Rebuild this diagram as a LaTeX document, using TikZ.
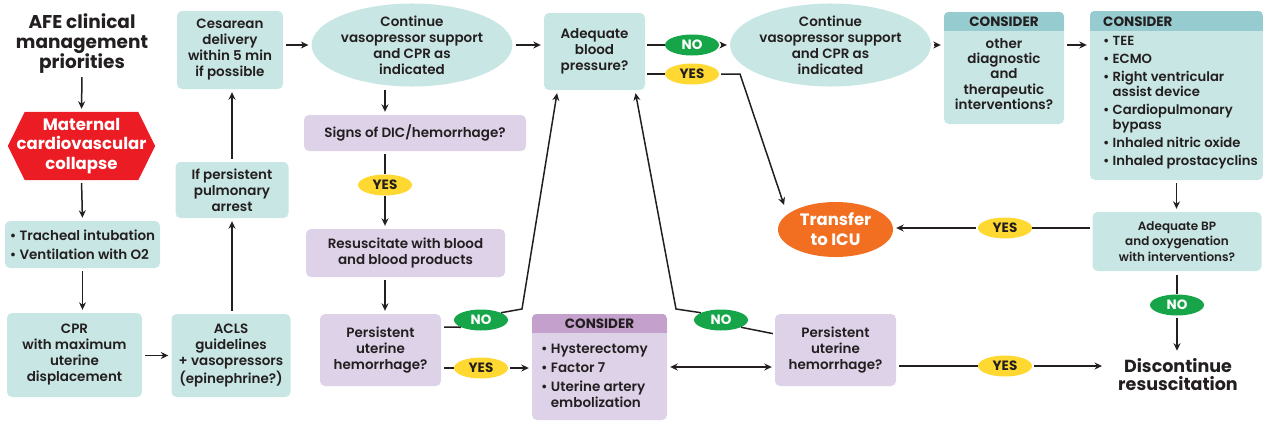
\documentclass[tikz,border=0pt]{standalone}
\usepackage{fontspec}
\setmainfont{Poppins}[BoldFont={Poppins SemiBold}]
\newfontfamily\heavyfont{Poppins Bold}
\usetikzlibrary{shapes.geometric,arrows.meta,calc}
\definecolor{ink}{HTML}{231F20}
\definecolor{tealf}{HTML}{C8E6E3}
\definecolor{tealh}{HTML}{96CCD0}
\definecolor{purf}{HTML}{DED2E8}
\definecolor{purh}{HTML}{C4A0CC}
\definecolor{redc}{HTML}{EC1C24}
\definecolor{orangec}{HTML}{F26F21}
\definecolor{greenc}{HTML}{17A54A}
\definecolor{yellowc}{HTML}{FFD832}
\newcommand\bt{\bfseries\fontsize{13.5}{16}\selectfont}
\begin{document}
\begin{tikzpicture}[x=1pt,y=-1pt,
  every node/.style={text=ink},
  tbox/.style={rectangle,rounded corners=5pt,fill=tealf,inner sep=0pt,align=center,font=\bt},
  pbox/.style={rectangle,rounded corners=5pt,fill=purf,inner sep=0pt,align=center,font=\bt},
  tell/.style={ellipse,fill=tealf,inner sep=0pt,align=center,font=\bt},
  yesov/.style={ellipse,fill=yellowc,inner sep=0pt,minimum width=54pt,minimum height=21pt,font=\heavyfont\fontsize{13.5}{16}\selectfont},
  noov/.style={ellipse,fill=greenc,inner sep=0pt,minimum width=54pt,minimum height=21pt,font=\heavyfont\fontsize{13.5}{16}\selectfont,text=white},
  hdr/.style={inner sep=0pt,font=\heavyfont\fontsize{13.5}{16}\selectfont},
  bigt/.style={inner sep=0pt,align=center,font=\heavyfont\fontsize{18.5}{20}\selectfont},
  arr/.style={draw=ink,line width=1.5pt,-{Stealth[length=7.5pt,width=7pt]},shorten <=3pt,shorten >=3pt},
  ln/.style={draw=ink,line width=1.5pt}
]
\useasboundingbox (0,0) rectangle (1263,421);

% left column
\node[bigt] (title) at (82,44) {AFE clinical\\management\\priorities};
\node[minimum width=147pt,minimum height=68pt,inner sep=0pt] (hex) at (81.5,146) {};
\fill[redc] (hex.west) -- ([xshift=17pt]hex.north west) -- ([xshift=-17pt]hex.north east) -- (hex.east) -- ([xshift=-17pt]hex.south east) -- ([xshift=17pt]hex.south west) -- cycle;
\node[inner sep=0pt,align=center,text=white,font=\heavyfont\fontsize{16.5}{19.5}\selectfont] (hexT) at (hex.center) {Maternal\\cardiovascular\\collapse};
\node[tbox,minimum width=155pt,minimum height=47pt,align=left,font=\bfseries\fontsize{13.5}{19}\selectfont] (trach) at (82.5,244.5) {\textbullet\ Tracheal intubation\\\textbullet\ Ventilation with O2};
\node[tbox,minimum width=135pt,minimum height=84pt] (cpr) at (74.5,355) {CPR\\with maximum\\uterine\\displacement};
\node[tbox,minimum width=119pt,minimum height=83pt] (acls) at (231,355.5) {ACLS\\guidelines\\+ vasopressors\\(epinephrine?)};
\node[tbox,minimum width=113pt,minimum height=56pt] (pulm) at (232,190) {If persistent\\pulmonary\\arrest};
\node[tbox,minimum width=106pt,minimum height=78pt] (cesar) at (230,50) {Cesarean\\delivery\\within 5 min\\if possible};

% middle
\node[tell,minimum width=176pt,minimum height=80pt] (ell1) at (412,45) {Continue\\vasopressor support\\and CPR as\\indicated};
\node[tbox,minimum width=101pt,minimum height=77pt] (abp) at (594.5,51.5) {Adequate\\blood\\pressure?};
\node[pbox,minimum width=222pt,minimum height=36pt] (dic) at (415,133) {Signs of DIC/hemorrhage?};
\node[yesov] (yesA) at (385,185) {YES};
\node[pbox,minimum width=199pt,minimum height=48pt] (resus) at (405.5,253) {Resuscitate with blood\\and blood products};
\node[pbox,minimum width=121pt,minimum height=72pt] (puh1) at (380.5,350) {Persistent\\uterine\\hemorrhage?};
\node[noov] (noA) at (481,320) {NO};
\node[yesov] (yesB) at (481,368) {YES};

\node[pbox,minimum width=135pt,minimum height=106pt] (cons3) at (599.5,367) {};
\begin{scope}
\clip[rounded corners=5pt] (cons3.south west) rectangle (cons3.north east);
\fill[purh] (cons3.north west) rectangle ([yshift=-19pt]cons3.north east);
\end{scope}
\node[hdr] (cons3h) at (599.5,324) {CONSIDER};
\node[inner sep=0pt,align=left,anchor=west,font=\bfseries\fontsize{13.5}{16}\selectfont] (cons3t) at (541,376) {\textbullet\ Hysterectomy\\[3pt]\textbullet\ Factor 7\\[3pt]\textbullet\ Uterine artery\\\phantom{\textbullet\ }embolization};

\node[pbox,minimum width=121pt,minimum height=72pt] (puh2) at (835.5,350) {Persistent\\uterine\\hemorrhage?};
\node[noov] (noB) at (721,320) {NO};
\node[yesov] (yesC) at (1005,366) {YES};
\node[inner sep=0pt,align=center,font=\heavyfont\fontsize{17.5}{18}\selectfont] (disc) at (1178,375) {Discontinue\\resuscitation};

\node[noov] (noC) at (692,45) {NO};
\node[yesov] (yesD) at (692,74) {YES};
\node[tell,minimum width=174pt,minimum height=80pt] (ell2) at (830.5,45) {Continue\\vasopressor support\\and CPR as\\indicated};
\node[ellipse,fill=orangec,inner sep=0pt,minimum width=115pt,minimum height=55pt,align=center,text=white,font=\heavyfont\fontsize{16.5}{20}\selectfont] (icu) at (835.5,229.5) {Transfer\\to ICU};
\coordinate (icuIn) at (784,205);

% right
\node[tbox,minimum width=120pt,minimum height=112pt] (cons1) at (1004,68) {};
\begin{scope}
\clip[rounded corners=5pt] (cons1.south west) rectangle (cons1.north east);
\fill[tealh] (cons1.north west) rectangle ([yshift=-19pt]cons1.north east);
\end{scope}
\node[hdr] (cons1h) at (1004,22) {CONSIDER};
\node[inner sep=0pt,align=center,font=\bfseries\fontsize{13.5}{15.3}\selectfont] (cons1t) at (1004,74) {other\\diagnostic\\and\\therapeutic\\interventions?};

\node[tbox,minimum width=173pt,minimum height=169pt] (cons2) at (1176.5,95.5) {};
\begin{scope}
\clip[rounded corners=5pt] (cons2.south west) rectangle (cons2.north east);
\fill[tealh] (cons2.north west) rectangle ([yshift=-20pt]cons2.north east);
\end{scope}
\node[hdr,anchor=west] (cons2h) at (1103,21.5) {CONSIDER};
\node[inner sep=0pt,align=left,anchor=west,font=\bfseries\fontsize{13.2}{15}\selectfont] (cons2t) at (1103,103) {\textbullet\ TEE\\[3pt]\textbullet\ ECMO\\[3pt]\textbullet\ Right ventricular\\\phantom{\textbullet\ }assist device\\[3pt]\textbullet\ Cardiopulmonary\\\phantom{\textbullet\ }bypass\\[3pt]\textbullet\ Inhaled nitric oxide\\[3pt]\textbullet\ Inhaled prostacyclins};

\node[tbox,minimum width=169pt,minimum height=59pt,font=\bfseries\fontsize{12}{15.5}\selectfont] (abp2) at (1177,241.5) {Adequate BP\\and oxygenation\\with interventions?};
\node[yesov] (yesE) at (1005,228) {YES};
\node[noov] (noD) at (1177,305) {NO};

% connectors
\draw[arr] (title.south) -- (hex.north);
\draw[arr] (hex.south) -- (trach.north);
\draw[arr] (trach.south) -- (trach.south |- cpr.north);
\draw[arr] (cpr.east |- acls.west) -- (acls.west);
\draw[arr] ([xshift=1pt]acls.north) -- ([xshift=1pt]acls.north |- pulm.south);
\draw[arr] (pulm.north) -- (pulm.north |- cesar.south);
\draw[arr] (cesar.east |- ell1.west) -- (ell1.west);
\draw[arr] (ell1.east) -- (ell1.east -| abp.west);
\draw[arr] (ell1.south -| yesA) -- (dic.north -| yesA);
\draw[ln,shorten <=3pt] (dic.south -| yesA) -- (yesA.north);
\draw[arr,shorten <=0pt] (yesA.south) -- (resus.north -| yesA);
\draw[arr] (resus.south -| yesA) -- (puh1.north -| yesA);
\draw[ln,shorten <=3pt] ([yshift=23pt]puh1.east) -- (noA.200);
\coordinate (kA) at (522,309);
\draw[arr,shorten <=0pt] (noA.20) -- (kA) -- ([xshift=-37pt]abp.south);
\draw[ln,shorten <=3pt] ([yshift=-18pt]puh1.east) -- (yesB.west);
\draw[arr,shorten <=2pt] (yesB.east) -- (yesB.east -| cons3.west);
\draw[arr,{Stealth[length=7.5pt,width=7pt]}-{Stealth[length=7.5pt,width=7pt]}] (cons3.east) -- (cons3.east -| puh2.west);
\draw[ln,shorten <=2pt] ([yshift=16pt]puh2.west) -- (noB.340);
\coordinate (kB) at (676,309);
\draw[arr,shorten <=0pt] (noB.160) -- (kB) -- ([xshift=40.5pt]abp.south);
\draw[ln,shorten <=3pt] ([yshift=-16pt]puh2.east) -- (yesC.west);
\draw[arr,shorten <=2pt,shorten >=16pt] (yesC.east) -- (yesC.east -| disc.west);
\draw[ln,shorten <=2pt] ([yshift=6.5pt]abp.east) -- (noC.west);
\draw[arr,shorten <=2pt] (noC.east) -- (ell2.west);
\draw[ln,shorten <=2pt] ([yshift=-22.5pt]abp.east) -- (yesD.west);
\coordinate (kD) at (740,74);
\draw[arr,shorten <=2pt,shorten >=0pt] (yesD.east) -- (kD) -- (icuIn);
\draw[arr] (ell2.east) -- (ell2.east -| cons1.west);
\draw[arr] ([yshift=23pt]cons1.east) -- ([yshift=23pt]cons1.east -| cons2.west);
\draw[arr] (cons2.south) -- (cons2.south |- abp2.north);
\draw[ln,shorten <=2pt] ([yshift=13.5pt]abp2.west) -- (yesE.east);
\draw[arr,shorten <=2pt] (yesE.west) -- (yesE.west -| icu.east);
\draw[ln,shorten <=4pt] (abp2.south) -- (noD.north);
\draw[arr,shorten <=2pt,shorten >=8pt] (noD.south) -- (noD.south |- disc.north);
\end{tikzpicture}
\end{document}
